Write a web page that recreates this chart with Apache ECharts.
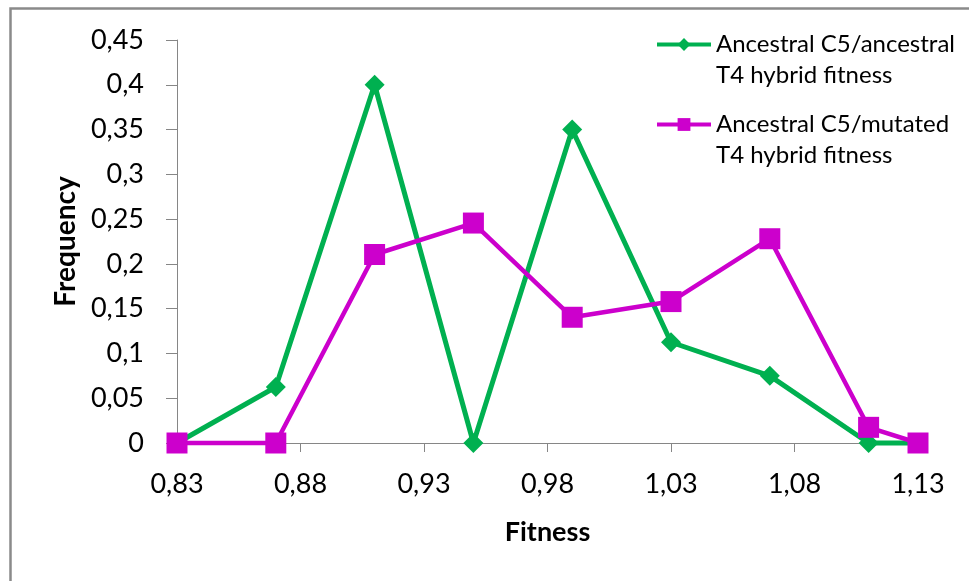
<!DOCTYPE html>
<html>
<head>
<meta charset="utf-8">
<script src="https://cdn.jsdelivr.net/npm/echarts@6/dist/echarts.min.js"></script>
<style>
  html, body { margin: 0; padding: 0; background: #ffffff; }
  #chart { width: 969px; height: 581px; }
</style>
</head>
<body>
<div id="chart"></div>
<script>
// Fitness classes (x) and frequency of hybrids in each class
const fitness = [0.83, 0.87, 0.91, 0.95, 0.99, 1.03, 1.07, 1.11, 1.13];
const ancestralT4 = [0, 0.0625, 0.4, 0, 0.35, 0.1125, 0.075, 0, 0];
const mutatedT4 = [0, 0, 0.2105, 0.2456, 0.1404, 0.1579, 0.2281, 0.0175, 0];

// Axis tick values
const xTicks = [0.83, 0.88, 0.93, 0.98, 1.03, 1.08, 1.13];
const yTicks = [0, 0.05, 0.1, 0.15, 0.2, 0.25, 0.3, 0.35, 0.4, 0.45];

const seriesNames = [
  'Ancestral C5/ancestral\nT4 hybrid fitness',
  'Ancestral C5/mutated\nT4 hybrid fitness'
];

const FONT = 'Lato, "Open Sans", sans-serif';
const GREEN = '#00b050';
const MAGENTA = '#cc00cc';
const AXIS_GREY = '#868686';

// Decimal comma formatting
const comma = (v, digits) => {
  const s = digits == null ? String(+v.toFixed(2)) : v.toFixed(digits);
  return s.replace('.', ',');
};

const pairs = (ys) => fitness.map((x, i) => [x, ys[i]]);

const chart = echarts.init(document.getElementById('chart'), null, { renderer: 'canvas' });

// Legend text: a blank leading line keeps the icon level with the first text line
const legendCommon = {
  orient: 'vertical',
  left: 655,
  padding: 0,
  itemWidth: 54,
  itemHeight: 16,
  itemGap: 0,
  selectedMode: false,
  lineStyle: { width: 4 },
  formatter: (name) => ' \n' + name,
  textStyle: {
    fontFamily: FONT,
    fontSize: 24,
    color: '#000000',
    lineHeight: 31
  }
};

chart.setOption({
  animation: false,
  backgroundColor: '#ffffff',
  graphic: [{
    type: 'rect',
    left: 8,
    top: 6,
    shape: { width: 1200, height: 1000 },
    style: { fill: 'none', stroke: '#8a8a8a', lineWidth: 2.5 },
    silent: true
  }],
  grid: { left: 177, right: 51, top: 40, bottom: 138, containLabel: false },
  legend: [
    Object.assign({}, legendCommon, { top: -2, data: [seriesNames[0]] }),
    Object.assign({}, legendCommon, { top: 78, data: [seriesNames[1]] })
  ],
  xAxis: {
    type: 'value',
    min: xTicks[0],
    max: xTicks[xTicks.length - 1],
    name: 'Fitness',
    nameLocation: 'middle',
    nameGap: 76,
    nameTextStyle: { fontFamily: FONT, fontSize: 27, fontWeight: 'bold', color: '#000000' },
    axisLine: { show: true, onZero: false, lineStyle: { color: AXIS_GREY, width: 1 } },
    axisTick: { show: true, customValues: xTicks, length: 9, lineStyle: { color: AXIS_GREY } },
    axisLabel: {
      customValues: xTicks,
      margin: 28,
      fontFamily: FONT,
      fontSize: 27,
      color: '#000000',
      formatter: (v) => comma(v, 2)
    },
    splitLine: { show: false }
  },
  yAxis: {
    type: 'value',
    min: yTicks[0],
    max: yTicks[yTicks.length - 1],
    interval: 0.05,
    name: 'Frequency',
    nameLocation: 'middle',
    nameRotate: 90,
    nameGap: 97,
    nameTextStyle: { fontFamily: FONT, fontSize: 28, fontWeight: 'bold', color: '#000000' },
    axisLine: { show: true, lineStyle: { color: AXIS_GREY, width: 1 } },
    axisTick: { show: true, length: 11, lineStyle: { color: AXIS_GREY } },
    axisLabel: {
      margin: 33,
      fontFamily: FONT,
      fontSize: 27,
      color: '#000000',
      formatter: (v) => comma(v)
    },
    splitLine: { show: false }
  },
  series: [
    {
      name: seriesNames[0],
      type: 'line',
      data: pairs(ancestralT4),
      clip: false,
      symbol: 'diamond',
      symbolSize: 20,
      lineStyle: { color: GREEN, width: 5 },
      itemStyle: { color: GREEN }
    },
    {
      name: seriesNames[1],
      type: 'line',
      data: pairs(mutatedT4),
      clip: false,
      symbol: 'rect',
      symbolSize: 21,
      lineStyle: { color: MAGENTA, width: 4.5 },
      itemStyle: { color: MAGENTA }
    }
  ]
});
</script>
</body>
</html>
